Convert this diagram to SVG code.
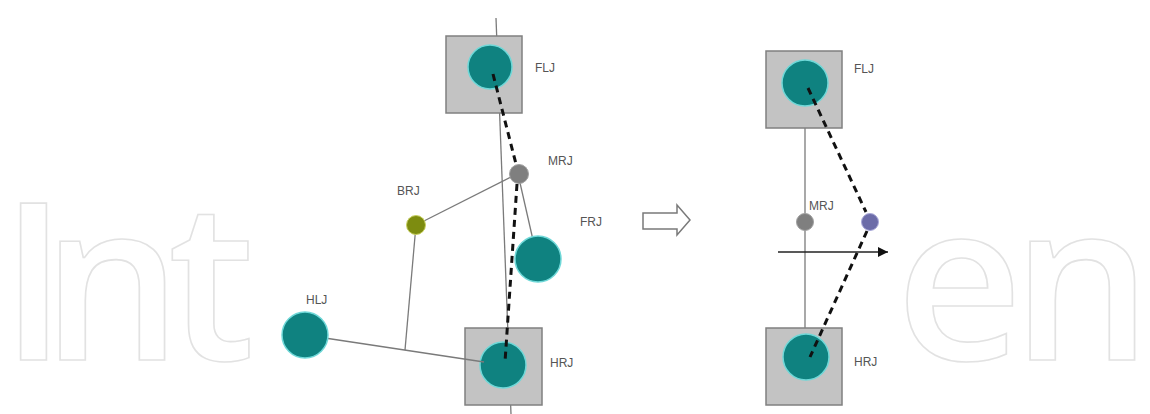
<svg xmlns="http://www.w3.org/2000/svg" width="1150" height="414" viewBox="0 0 1150 414">
<style>
.wm{font-family:"Open Sans","DejaVu Sans",sans-serif;font-size:220px;font-weight:600;fill:#ffffff;stroke:#e2e2e2;stroke-width:1.6}
.sq{fill:#c3c3c3;stroke:#808080;stroke-width:1.5}
.big{fill:#0f8280;stroke:#6fd8d8;stroke-width:1.5}
.mrj{fill:#7f7f7f;stroke:#a0a0a0;stroke-width:1}
.brj{fill:#7d8c10;stroke:#c8d060;stroke-width:1}
.prj{fill:#6c6ca8;stroke:#a8a8d8;stroke-width:1}
.thin{stroke:#7a7a7a;stroke-width:1.3;fill:none}
.dash{stroke:#111;stroke-width:3;stroke-dasharray:7 5;fill:none}
.lbl{font-family:"Liberation Sans",Arial,sans-serif;font-size:12px;fill:#555}
</style>
<defs>
<marker id="ah" viewBox="0 0 10 10" refX="10" refY="5" markerWidth="10" markerHeight="10" markerUnits="userSpaceOnUse" orient="auto">
<path d="M0,0 L10,5 L0,10 Z" fill="#111"/>
</marker>
</defs>
<rect width="1150" height="414" fill="#ffffff"/>
<g id="watermark">
<text class="wm" x="0 42 168" y="360">Int</text>
<text class="wm" x="896 1012" y="360">en</text>
</g>
<rect x="268" y="0" width="627" height="414" fill="#ffffff"/>

<g id="connectors">
<line class="thin" x1="496" y1="18" x2="511" y2="414"/>
<line class="thin" x1="805" y1="82" x2="805" y2="355"/>
</g>

<g id="FLJ-left"><rect class="sq" x="446" y="36" width="76" height="77"/><circle class="big" cx="490" cy="67" r="22"/><text class="lbl" x="535" y="72">FLJ</text></g>
<g id="HRJ-left"><rect class="sq" x="465" y="328" width="77" height="77"/><circle class="big" cx="503" cy="365" r="23"/><text class="lbl" x="550" y="367">HRJ</text></g>
<g id="FLJ-right"><rect class="sq" x="766" y="51" width="76" height="77"/><circle class="big" cx="805" cy="83" r="23"/><text class="lbl" x="854" y="73">FLJ</text></g>
<g id="HRJ-right"><rect class="sq" x="766" y="328" width="76" height="77"/><circle class="big" cx="806" cy="357" r="23"/><text class="lbl" x="854" y="366">HRJ</text></g>

<g id="links">
<line class="thin" x1="511" y1="177" x2="416" y2="225"/>
<line class="thin" x1="416" y1="225" x2="405" y2="350"/>
<line class="thin" x1="305" y1="335" x2="484" y2="362"/>
<line class="thin" x1="518" y1="174" x2="533" y2="240"/>
<line class="dash" x1="493" y1="74" x2="516" y2="164"/>
<line class="dash" x1="517" y1="184" x2="505" y2="362"/>
<line class="dash" x1="808" y1="88" x2="866" y2="212"/>
<line class="dash" x1="867" y1="231" x2="810" y2="357"/>
<line stroke="#222" stroke-width="1.5" x1="778" y1="252" x2="888" y2="252" marker-end="url(#ah)"/>
<path d="M643,213 H677 V205 L690,220 L677,235 V229 H643 Z" fill="#fff" stroke="#7a7a7a" stroke-width="1.5"/>
</g>

<g id="MRJ-left"><circle class="mrj" cx="519" cy="174" r="9.5"/><text class="lbl" x="548" y="165">MRJ</text></g>
<g id="BRJ"><circle class="brj" cx="416" cy="225" r="9.5"/><text class="lbl" x="397" y="195">BRJ</text></g>
<g id="FRJ"><circle class="big" cx="538" cy="259" r="23"/><text class="lbl" x="580" y="226">FRJ</text></g>
<g id="HLJ"><circle class="big" cx="305" cy="335" r="23"/><text class="lbl" x="306" y="304">HLJ</text></g>
<g id="MRJ-right"><circle class="mrj" cx="805" cy="222" r="8.5"/><text class="lbl" x="809" y="210">MRJ</text></g>
<g id="PRJ"><circle class="prj" cx="870" cy="222" r="8.5"/></g>
</svg>
